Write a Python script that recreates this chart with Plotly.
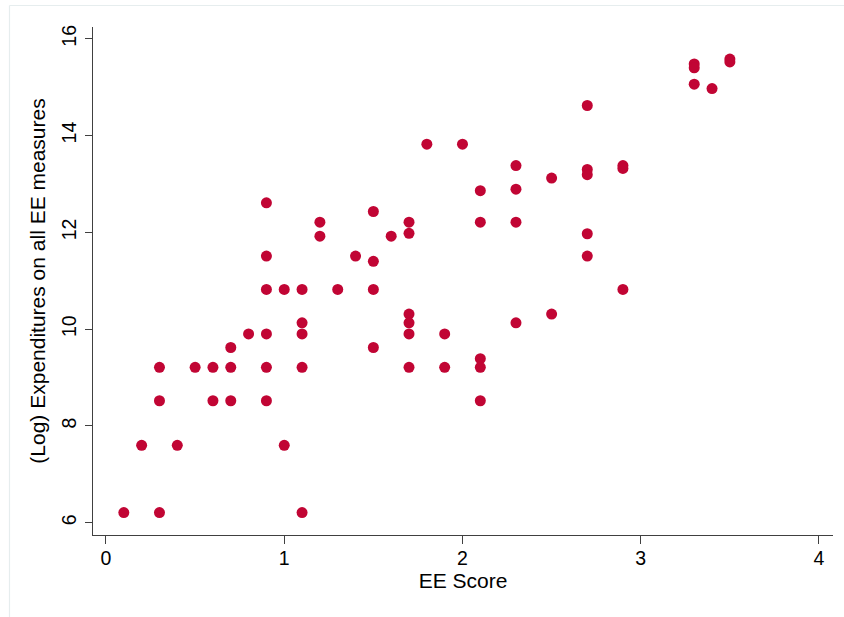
import plotly.graph_objects as go

# EE score (x) and log expenditures (y)
ee_score = [
    0.1, 0.3, 1.1,
    0.2, 0.4, 1.0,
    0.3, 0.6, 0.7, 0.9,
    0.3, 0.5, 0.6, 0.7, 0.9, 1.1,
    0.7, 0.8, 0.9, 1.1, 1.1, 1.5,
    0.9, 1.0, 1.1, 1.3, 1.5,
    0.9, 1.4, 1.5,
    0.9, 1.2, 1.2, 1.5, 1.6, 1.7, 1.7,
    1.8, 2.0, 2.1, 2.1,
    2.7, 2.3, 2.5, 2.7, 2.7, 2.9, 2.9,
    2.3, 2.3, 2.7, 2.7, 2.9,
    1.7, 1.7, 1.7, 1.9, 2.3, 2.5,
    1.7, 1.9, 2.1, 2.1, 2.1,
    3.3, 3.3, 3.5, 3.5, 3.3, 3.4,
]
log_expenditure = [
    6.21, 6.21, 6.21,
    7.60, 7.60, 7.60,
    8.52, 8.52, 8.52, 8.52,
    9.21, 9.21, 9.21, 9.21, 9.21, 9.21,
    9.62, 9.90, 9.90, 9.90, 10.13, 9.62,
    10.82, 10.82, 10.82, 10.82, 10.82,
    11.51, 11.51, 11.40,
    12.61, 12.21, 11.92, 12.43, 11.92, 12.21, 11.98,
    13.82, 13.82, 12.86, 12.21,
    14.62, 13.38, 13.12, 13.30, 13.19, 13.38, 13.32,
    12.89, 12.21, 11.97, 11.51, 10.82,
    10.31, 10.13, 9.90, 9.90, 10.13, 10.31,
    9.21, 9.21, 9.39, 9.21, 8.52,
    15.48, 15.40, 15.58, 15.52, 15.06, 14.97,
]

x_ticks = [0, 1, 2, 3, 4]
y_ticks = [6, 8, 10, 12, 14, 16]

FONT = "Liberation Sans, Arial, Helvetica, sans-serif"
MARK = "rgb(193,5,52)"

fig = go.Figure(
    go.Scatter(
        x=ee_score,
        y=log_expenditure,
        mode="markers",
        marker=dict(size=11, color=MARK, line=dict(width=0)),
        hoverinfo="x+y",
        showlegend=False,
    )
)

W, H = 844, 617
ml, mr, mt, mb = 93, 11, 27, 82

fig.update_layout(
    width=W,
    height=H,
    margin=dict(l=ml, r=mr, t=mt, b=mb, pad=0),
    paper_bgcolor="white",
    plot_bgcolor="white",
    font=dict(family=FONT, size=19.5, color="black"),
    xaxis=dict(
        range=[-0.0729, 4.0786],
        tickvals=x_ticks,
        ticktext=[str(v) for v in x_ticks],
        showgrid=False,
        zeroline=False,
        showline=True,
        linecolor="#404040",
        linewidth=1.3,
        ticks="outside",
        ticklen=8,
        tickcolor="#404040",
        tickwidth=1.2,
        tickfont=dict(size=19.5),
        ticklabelstandoff=-3,
        title=dict(text="EE Score", font=dict(size=21), standoff=4),
    ),
    yaxis=dict(
        range=[5.746, 16.242],
        tickvals=y_ticks,
        ticktext=[str(v) for v in y_ticks],
        tickangle=-90,
        showgrid=False,
        zeroline=False,
        showline=True,
        linecolor="#404040",
        linewidth=1.3,
        ticks="outside",
        ticklen=7,
        tickcolor="#404040",
        tickwidth=1.2,
        tickfont=dict(size=19.5),
        ticklabelstandoff=1,
        title=dict(text="(Log) Expenditures on all EE measures", font=dict(size=21), standoff=6),
    ),
)

# faint outer graph-region border (top and left edges)
pw = W - ml - mr
ph = H - mt - mb
def px_to_paper_x(px):
    return (px - ml) / pw
def px_to_paper_y(py):
    return (H - mb - py) / ph

fig.add_shape(type="line", xref="paper", yref="paper",
              x0=px_to_paper_x(9.5), x1=px_to_paper_x(850),
              y0=px_to_paper_y(5.5), y1=px_to_paper_y(5.5),
              line=dict(color="#E6EDEE", width=1.2), layer="below")
fig.add_shape(type="line", xref="paper", yref="paper",
              x0=px_to_paper_x(9.5), x1=px_to_paper_x(9.5),
              y0=px_to_paper_y(5.5), y1=px_to_paper_y(620),
              line=dict(color="#E6EDEE", width=1.2), layer="below")

fig.write_html(
    "out.html",
    config={"displayModeBar": False},
    post_script="document.body.style.margin='0';document.body.style.overflow='hidden';",
)
